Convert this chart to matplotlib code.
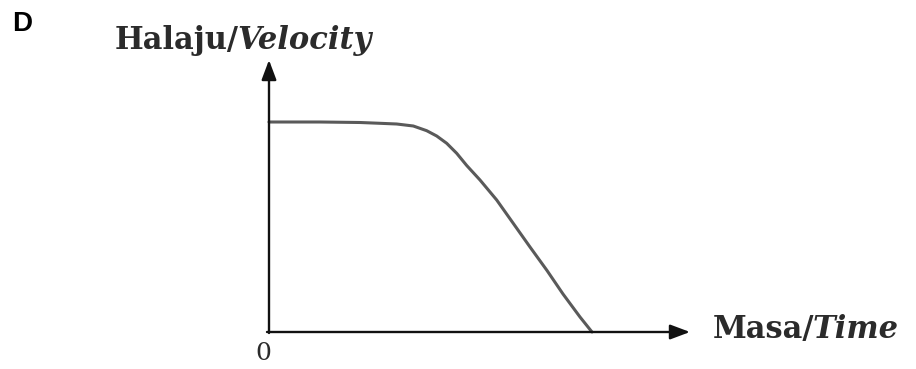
import numpy as np
import matplotlib.pyplot as plt

# velocity-time sketch, units are arbitrary (origin at the axes corner)
time = [0, 51, 91, 111, 127.7, 144.3, 157.7, 167.7, 177.7, 187.7, 197.7, 211, 227.7,
        244, 261, 278, 294, 311, 323]
velocity = [210, 210, 209.5, 208.7, 208, 206, 201.3, 196, 188.7, 178.7, 166.5, 152, 132,
            109, 85, 61.5, 38, 15, 0]

x_end = 421      # tip of the time arrow
y_end = 272      # tip of the velocity arrow

fig = plt.figure(figsize=(9.16, 3.69), dpi=100)
ax = fig.add_axes([0, 0, 1, 1])
ax.set_xlim(-269, 647)
ax.set_ylim(-37, 332)
ax.axis('off')

ax.plot(time, velocity, color='#5a5a5a', lw=2.2, solid_capstyle='round',
        solid_joinstyle='round')

arrow = dict(arrowstyle='-|>,head_length=1.2,head_width=0.45', color='#111111', lw=1.7,
             shrinkA=0, shrinkB=0)
ax.annotate('', xy=(x_end, 0), xytext=(-2, 0), arrowprops=arrow)
ax.annotate('', xy=(0, y_end), xytext=(0, -1), arrowprops=arrow)

serif = 'DejaVu Serif'
ink = '#2b2b2b'
ax.text(-6, -21, '0', fontsize=18, family=serif, color=ink, ha='center', va='center')

# axis titles: upright Malay word followed by italic English word
t = ax.text(-154, 283, 'Halaju/', fontsize=22, family=serif, weight='bold', color=ink,
            ha='left', va='baseline')
ax.annotate('Velocity', xy=(1, 0), xycoords=t, xytext=(-2, 0), textcoords='offset pixels',
            fontsize=22, family=serif, weight='bold', style='italic', color=ink,
            ha='left', va='bottom')
t = ax.text(444, -6, 'Masa/', fontsize=22, family=serif, weight='bold', color=ink,
            ha='left', va='baseline')
ax.annotate('Time', xy=(1, 0), xycoords=t, xytext=(-2, 0), textcoords='offset pixels',
            fontsize=22, family=serif, weight='bold', style='italic', color=ink,
            ha='left', va='bottom')

ax.text(-257, 308, 'D', fontsize=20, family='Liberation Sans', weight='bold',
        color='black', ha='left', va='center')

fig.savefig('out.png', dpi=100)
